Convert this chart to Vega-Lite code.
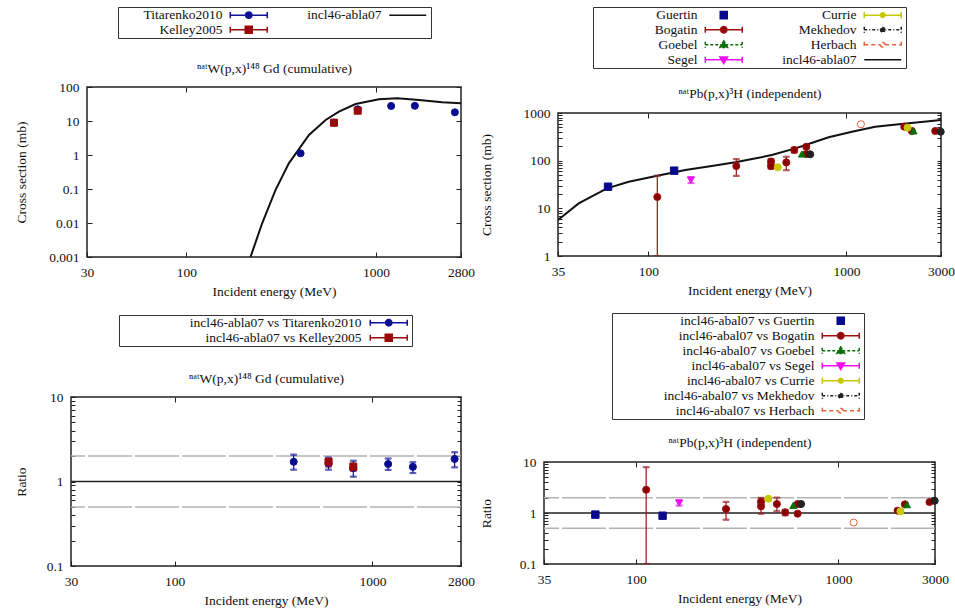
{
  "$schema": "https://vega.github.io/schema/vega-lite/v6.json",
  "padding": {"left": 12, "top": 4, "right": 0, "bottom": 0},
  "config": {
    "font": "Liberation Serif",
    "view": {"stroke": "#222222", "strokeWidth": 1.5},
    "axis": {"domain": false, "grid": false, "labelFontSize": 13.5, "titleFontSize": 13.5, "titleFontWeight": "normal", "labelColor": "#111111", "titleColor": "#111111", "tickColor": "#222222", "tickWidth": 1, "labelFlush": false, "labelOverlap": false},
    "legend": {"labelFontSize": 13.5, "labelColor": "#111111", "symbolOpacity": 1}
  },
  "resolve": {"scale": {"stroke": "independent", "fill": "independent", "shape": "independent", "strokeDash": "independent"}},
  "spacing": 1,
  "hconcat": [
    {
      "resolve": {"scale": {"stroke": "independent", "fill": "independent", "shape": "independent", "strokeDash": "independent"}},
      "spacing": 0,
      "vconcat": [
        {"width": 1, "height": 1, "view": {"stroke": null}, "mark": "point", "data": {"values": []}},
        {
          "resolve": {"scale": {"stroke": "independent", "fill": "independent", "shape": "independent", "strokeDash": "independent"}},
          "spacing": 14,
          "vconcat": [
            {
              "resolve": {"scale": {"stroke": "independent", "fill": "independent", "shape": "independent", "strokeDash": "independent"}},
              "spacing": 0,
              "hconcat": [
                {"width": 1, "height": 1, "view": {"stroke": null}, "mark": "point", "data": {"values": []}},
                {
                  "width": 374, "height": 170,
                  "data": {"values": [
                    {"s": "incl46-abla07", "E": 218, "v": 0.001},
                    {"s": "incl46-abla07", "E": 251, "v": 0.0098},
                    {"s": "incl46-abla07", "E": 295, "v": 0.093},
                    {"s": "incl46-abla07", "E": 347, "v": 0.57},
                    {"s": "incl46-abla07", "E": 443, "v": 3.87},
                    {"s": "incl46-abla07", "E": 542, "v": 10.7},
                    {"s": "incl46-abla07", "E": 637, "v": 18.8},
                    {"s": "incl46-abla07", "E": 780, "v": 31.6},
                    {"s": "incl46-abla07", "E": 1035, "v": 43.5},
                    {"s": "incl46-abla07", "E": 1293, "v": 46.6},
                    {"s": "incl46-abla07", "E": 1682, "v": 41.5},
                    {"s": "incl46-abla07", "E": 2229, "v": 35.5},
                    {"s": "incl46-abla07", "E": 2800, "v": 33},
                    {"s": "Titarenko2010", "E": 400, "v": 1.12},
                    {"s": "Titarenko2010", "E": 600, "v": 9.0},
                    {"s": "Titarenko2010", "E": 800, "v": 22},
                    {"s": "Titarenko2010", "E": 1200, "v": 27.7},
                    {"s": "Titarenko2010", "E": 1600, "v": 28},
                    {"s": "Titarenko2010", "E": 2600, "v": 18},
                    {"s": "Kelley2005", "E": 600, "v": 8.9},
                    {"s": "Kelley2005", "E": 800, "v": 20.1}
                  ]},
                  "resolve": {"axis": {"x": "independent", "y": "independent"}},
                  "layer": [
                    {
                      "transform": [{"filter": "datum.s === 'incl46-abla07'"}],
                      "mark": {"type": "line", "strokeWidth": 2, "clip": true},
                      "encoding": {
                        "x": {"field": "E", "type": "quantitative", "scale": {"type": "log", "domain": [30, 2800], "nice": false},
                          "axis": {"orient": "bottom", "values": [30, 100, 1000, 2800], "format": "d", "tickSize": -5, "labelPadding": 13, "title": "Incident energy (MeV)", "titlePadding": 6}},
                        "y": {"field": "v", "type": "quantitative", "scale": {"type": "log", "domain": [0.001, 100], "nice": false},
                          "axis": {"orient": "left", "values": [0.001, 0.01, 0.1, 1, 10, 100], "format": "~g", "tickSize": -5, "labelPadding": 13, "title": "Cross section (mb)", "titlePadding": 20}},
                        "stroke": {"field": "s", "type": "nominal", "scale": {"domain": ["Titarenko2010", "Kelley2005", "incl46-abla07"], "range": ["#10109a", "#9a0a0a", "#111111"]}}
                      }
                    },
                    {
                      "transform": [{"filter": "datum.s === 'Titarenko2010'"}],
                      "mark": {"type": "point", "shape": "circle", "size": 50, "opacity": 1, "strokeWidth": 1},
                      "encoding": {
                        "x": {"field": "E", "type": "quantitative", "scale": {"type": "log", "domain": [30, 2800], "nice": false},
                          "axis": {"orient": "top", "values": [100, 1000], "tickSize": -5, "labels": false, "title": "ⁿᵃᵗW(p,x)¹⁴⁸ Gd (cumulative)", "titlePadding": 11}},
                        "y": {"field": "v", "type": "quantitative", "scale": {"type": "log", "domain": [0.001, 100], "nice": false},
                          "axis": {"orient": "right", "values": [0.001, 0.01, 0.1, 1, 10, 100], "tickSize": -5, "labels": false, "title": null}},
                        "fill": {"field": "s", "type": "nominal", "scale": {"domain": ["Titarenko2010", "Kelley2005", "incl46-abla07"], "range": ["#0a0a8c", "#9a0a0a", "transparent"]}},
                        "stroke": {"field": "s", "type": "nominal"}
                      }
                    },
                    {
                      "transform": [{"filter": "datum.s === 'Kelley2005'"}],
                      "mark": {"type": "point", "shape": "square", "size": 50, "opacity": 1, "strokeWidth": 1},
                      "encoding": {
                        "x": {"field": "E", "type": "quantitative", "scale": {"type": "log", "domain": [30, 2800], "nice": false}, "axis": null},
                        "y": {"field": "v", "type": "quantitative", "scale": {"type": "log", "domain": [0.001, 100], "nice": false}, "axis": null},
                        "fill": {"field": "s", "type": "nominal"},
                        "stroke": {"field": "s", "type": "nominal"}
                      }
                    },
                    {
                      "transform": [{"filter": "false"}],
                      "mark": {"type": "point", "opacity": 1},
                      "encoding": {
                        "x": {"field": "E", "type": "quantitative", "scale": {"type": "log", "domain": [30, 2800], "nice": false}, "axis": null},
                        "y": {"field": "v", "type": "quantitative", "scale": {"type": "log", "domain": [0.001, 100], "nice": false}, "axis": null},
                        "shape": {"field": "s", "type": "nominal", "scale": {"domain": ["Titarenko2010", "Kelley2005", "incl46-abla07"], "range": [
                          "M-3.36,0H3.36M-3.36,-0.55V0.55M3.36,-0.55V0.55M-0.58,0A0.58,0.58,0,1,0,0.58,0A0.58,0.58,0,1,0,-0.58,0Z",
                          "M-3.36,0H3.36M-3.36,-0.55V0.55M3.36,-0.55V0.55M-0.64,-0.64H0.64V0.64H-0.64Z",
                          "M-3.36,0H3.36"]}},
                        "fill": {"field": "s", "type": "nominal"},
                        "stroke": {"field": "s", "type": "nominal",
                          "legend": {
                            "title": null, "orient": "none", "legendX": 31, "legendY": -80, "columns": 2, "columnPadding": 7, "rowPadding": 0, "padding": 1,
                            "symbolSize": 121, "symbolStrokeWidth": 1.5, "symbolOpacity": 1, "symbolOffset": 123, "labelOffset": -33, "labelAlign": "right", "labelLimit": 400,
                            "strokeColor": "#333333", "fillColor": "#ffffff"
                          }}
                      }
                    }
                  ]
                }
              ]
            },
            {
              "resolve": {"scale": {"stroke": "independent", "fill": "independent", "shape": "independent", "strokeDash": "independent"}},
              "spacing": 0,
              "hconcat": [
                {"width": 1, "height": 1, "view": {"stroke": null}, "mark": "point", "data": {"values": []}},
                {
                  "width": 390, "height": 169,
                  "data": {"values": [
                    {"s": "incl46-abla07 vs Titarenko2010", "E": 400, "v": 1.71, "lo": 1.38, "hi": 2.08},
                    {"s": "incl46-abla07 vs Titarenko2010", "E": 600, "v": 1.65, "lo": 1.38, "hi": 1.92},
                    {"s": "incl46-abla07 vs Titarenko2010", "E": 800, "v": 1.44, "lo": 1.14, "hi": 1.76},
                    {"s": "incl46-abla07 vs Titarenko2010", "E": 1200, "v": 1.61, "lo": 1.37, "hi": 1.87},
                    {"s": "incl46-abla07 vs Titarenko2010", "E": 1600, "v": 1.49, "lo": 1.26, "hi": 1.69},
                    {"s": "incl46-abla07 vs Titarenko2010", "E": 2600, "v": 1.85, "lo": 1.47, "hi": 2.22},
                    {"s": "incl46-abla07 vs Kelley2005", "E": 600, "v": 1.71, "lo": 1.5, "hi": 1.85},
                    {"s": "incl46-abla07 vs Kelley2005", "E": 800, "v": 1.49, "lo": 1.34, "hi": 1.64}
                  ]},
                  "resolve": {"axis": {"x": "independent", "y": "independent"}},
                  "layer": [
                    {
                      "data": {"values": [{"r": 0.5}, {"r": 1}, {"r": 2}]},
                      "mark": {"type": "rule", "strokeWidth": 1.5},
                      "encoding": {
                        "y": {"field": "r", "type": "quantitative", "scale": {"type": "log", "domain": [0.1, 10], "nice": false}, "axis": null},
                        "stroke": {"condition": {"test": "datum.r == 1", "value": "#222222"}, "value": "#b4b4b4"},
                        "strokeDash": {"condition": {"test": "datum.r == 1", "value": [1, 0]}, "value": [44, 3]}
                      }
                    },
                    {
                      "mark": {"type": "rule", "strokeWidth": 1.2, "clip": true},
                      "encoding": {
                        "x": {"field": "E", "type": "quantitative", "scale": {"type": "log", "domain": [30, 2800], "nice": false},
                          "axis": {"orient": "bottom", "values": [30, 100, 1000, 2800], "format": "d", "tickSize": -5, "labelPadding": 13, "title": "Incident energy (MeV)", "titlePadding": 6}},
                        "y": {"field": "lo", "type": "quantitative", "scale": {"type": "log", "domain": [0.1, 10], "nice": false},
                          "axis": {"orient": "left", "values": [0.1, 0.2, 0.3, 0.4, 0.5, 0.6, 0.7, 0.8, 0.9, 1, 2, 3, 4, 5, 6, 7, 8, 9, 10], "format": "~g", "labelExpr": "abs(log(datum.value)/LN10-round(log(datum.value)/LN10))<0.001 ? datum.label : ''", "tickSize": -4, "labelPadding": 12, "title": "Ratio", "titlePadding": 18}},
                        "y2": {"field": "hi"},
                        "stroke": {"field": "s", "type": "nominal", "scale": {"domain": ["incl46-abla07 vs Titarenko2010", "incl46-abla07 vs Kelley2005"], "range": ["#10109a", "#9a0a0a"]}}
                      }
                    },
                    {
                      "mark": {"type": "tick", "orient": "horizontal", "size": 6, "thickness": 1.2, "clip": true},
                      "encoding": {
                        "x": {"field": "E", "type": "quantitative", "scale": {"type": "log", "domain": [30, 2800], "nice": false},
                          "axis": {"orient": "top", "values": [100, 1000], "tickSize": -5, "labels": false, "title": "ⁿᵃᵗW(p,x)¹⁴⁸ Gd (cumulative)", "titlePadding": 11}},
                        "y": {"field": "lo", "type": "quantitative", "scale": {"type": "log", "domain": [0.1, 10], "nice": false},
                          "axis": {"orient": "right", "values": [0.1, 0.2, 0.3, 0.4, 0.5, 0.6, 0.7, 0.8, 0.9, 1, 2, 3, 4, 5, 6, 7, 8, 9, 10], "tickSize": -4, "labels": false, "title": null}},
                        "stroke": {"field": "s", "type": "nominal"}
                      }
                    },
                    {
                      "mark": {"type": "tick", "orient": "horizontal", "size": 6, "thickness": 1.2, "clip": true},
                      "encoding": {
                        "x": {"field": "E", "type": "quantitative", "scale": {"type": "log", "domain": [30, 2800], "nice": false}, "axis": null},
                        "y": {"field": "hi", "type": "quantitative", "scale": {"type": "log", "domain": [0.1, 10], "nice": false}, "axis": null},
                        "stroke": {"field": "s", "type": "nominal"}
                      }
                    },
                    {
                      "transform": [{"filter": "datum.s === 'incl46-abla07 vs Titarenko2010'"}],
                      "mark": {"type": "point", "shape": "circle", "size": 50, "opacity": 1, "strokeWidth": 1},
                      "encoding": {
                        "x": {"field": "E", "type": "quantitative", "scale": {"type": "log", "domain": [30, 2800], "nice": false}, "axis": null},
                        "y": {"field": "v", "type": "quantitative", "scale": {"type": "log", "domain": [0.1, 10], "nice": false}, "axis": null},
                        "fill": {"field": "s", "type": "nominal", "scale": {"domain": ["incl46-abla07 vs Titarenko2010", "incl46-abla07 vs Kelley2005"], "range": ["#0a0a8c", "#9a0a0a"]}},
                        "stroke": {"field": "s", "type": "nominal"}
                      }
                    },
                    {
                      "transform": [{"filter": "datum.s === 'incl46-abla07 vs Kelley2005'"}],
                      "mark": {"type": "point", "shape": "square", "size": 50, "opacity": 1, "strokeWidth": 1},
                      "encoding": {
                        "x": {"field": "E", "type": "quantitative", "scale": {"type": "log", "domain": [30, 2800], "nice": false}, "axis": null},
                        "y": {"field": "v", "type": "quantitative", "scale": {"type": "log", "domain": [0.1, 10], "nice": false}, "axis": null},
                        "fill": {"field": "s", "type": "nominal"},
                        "stroke": {"field": "s", "type": "nominal"}
                      }
                    },
                    {
                      "transform": [{"filter": "false"}],
                      "mark": {"type": "point", "opacity": 1},
                      "encoding": {
                        "x": {"field": "E", "type": "quantitative", "scale": {"type": "log", "domain": [30, 2800], "nice": false}, "axis": null},
                        "y": {"field": "v", "type": "quantitative", "scale": {"type": "log", "domain": [0.1, 10], "nice": false}, "axis": null},
                        "shape": {"field": "s", "type": "nominal", "scale": {"domain": ["incl46-abla07 vs Titarenko2010", "incl46-abla07 vs Kelley2005"], "range": [
                          "M-3.36,0H3.36M-3.36,-0.55V0.55M3.36,-0.55V0.55M-0.58,0A0.58,0.58,0,1,0,0.58,0A0.58,0.58,0,1,0,-0.58,0Z",
                          "M-3.36,0H3.36M-3.36,-0.55V0.55M3.36,-0.55V0.55M-0.64,-0.64H0.64V0.64H-0.64Z"]}},
                        "fill": {"field": "s", "type": "nominal"},
                        "stroke": {"field": "s", "type": "nominal",
                          "legend": {
                            "title": null, "orient": "none", "legendX": 48, "legendY": -82, "columns": 1, "rowPadding": 0, "padding": 1,
                            "symbolSize": 121, "symbolStrokeWidth": 1.5, "symbolOpacity": 1, "symbolOffset": 262, "labelOffset": -34, "labelAlign": "right", "labelLimit": 400,
                            "strokeColor": "#333333", "fillColor": "#ffffff"
                          }}
                      }
                    }
                  ]
                }
              ]
            }
          ]
        }
      ]
    },
    {
      "resolve": {"scale": {"stroke": "independent", "fill": "independent", "shape": "independent", "strokeDash": "independent"}},
      "spacing": 0,
      "vconcat": [
        {"width": 1, "height": 1, "view": {"stroke": null}, "mark": "point", "data": {"values": []}},
        {
          "resolve": {"scale": {"stroke": "independent", "fill": "independent", "shape": "independent", "strokeDash": "independent"}},
          "spacing": 13,
          "vconcat": [
            {
              "resolve": {"scale": {"stroke": "independent", "fill": "independent", "shape": "independent", "strokeDash": "independent"}},
              "spacing": 0,
              "hconcat": [
                {"width": 1, "height": 1, "view": {"stroke": null}, "mark": "point", "data": {"values": []}},
                {
                  "width": 383, "height": 143,
                  "data": {"values": [
                    {"s": "incl46-abla07", "E": 35, "v": 5.69},
                    {"s": "incl46-abla07", "E": 44.5, "v": 12.7},
                    {"s": "incl46-abla07", "E": 61.9, "v": 26.3},
                    {"s": "incl46-abla07", "E": 79.6, "v": 36.2},
                    {"s": "incl46-abla07", "E": 111, "v": 48.4},
                    {"s": "incl46-abla07", "E": 153.6, "v": 63.7},
                    {"s": "incl46-abla07", "E": 209, "v": 77.3},
                    {"s": "incl46-abla07", "E": 275, "v": 92.3},
                    {"s": "incl46-abla07", "E": 334, "v": 108},
                    {"s": "incl46-abla07", "E": 420, "v": 131},
                    {"s": "incl46-abla07", "E": 552, "v": 181},
                    {"s": "incl46-abla07", "E": 644, "v": 224},
                    {"s": "incl46-abla07", "E": 813, "v": 309},
                    {"s": "incl46-abla07", "E": 1066, "v": 405},
                    {"s": "incl46-abla07", "E": 1397, "v": 516},
                    {"s": "incl46-abla07", "E": 1835, "v": 579},
                    {"s": "incl46-abla07", "E": 2318, "v": 638},
                    {"s": "incl46-abla07", "E": 3000, "v": 713},
                    {"s": "Bogatin", "E": 111, "v": 17.3, "lo": 1, "hi": 48.4},
                    {"s": "Bogatin", "E": 278, "v": 77, "lo": 48, "hi": 108},
                    {"s": "Bogatin", "E": 416, "v": 96, "lo": 86, "hi": 108},
                    {"s": "Bogatin", "E": 416, "v": 77, "lo": 68, "hi": 88},
                    {"s": "Bogatin", "E": 497, "v": 92, "lo": 63, "hi": 121},
                    {"s": "Bogatin", "E": 545, "v": 167, "lo": 148, "hi": 188},
                    {"s": "Bogatin", "E": 627, "v": 196, "lo": 180, "hi": 213},
                    {"s": "Bogatin", "E": 627, "v": 138, "lo": 128, "hi": 148},
                    {"s": "Bogatin", "E": 1958, "v": 516, "lo": 490, "hi": 545},
                    {"s": "Bogatin", "E": 2138, "v": 419, "lo": 398, "hi": 441},
                    {"s": "Bogatin", "E": 2806, "v": 419, "lo": 398, "hi": 441},
                    {"s": "Guertin", "E": 62.6, "v": 28.4},
                    {"s": "Guertin", "E": 135, "v": 61.7},
                    {"s": "Segel", "E": 164, "v": 39.3, "lo": 34, "hi": 45},
                    {"s": "Goebel", "E": 596, "v": 138},
                    {"s": "Goebel", "E": 2180, "v": 422},
                    {"s": "Currie", "E": 450, "v": 72.6},
                    {"s": "Currie", "E": 2034, "v": 492},
                    {"s": "Mekhedov", "E": 656, "v": 136},
                    {"s": "Mekhedov", "E": 2990, "v": 405},
                    {"s": "Herbach", "E": 1183, "v": 580}
                  ]},
                  "resolve": {"axis": {"x": "independent", "y": "independent"}},
                  "layer": [
                    {
                      "transform": [{"filter": "datum.s === 'incl46-abla07'"}],
                      "mark": {"type": "line", "strokeWidth": 2, "clip": true},
                      "encoding": {
                        "x": {"field": "E", "type": "quantitative", "scale": {"type": "log", "domain": [35, 3000], "nice": false},
                          "axis": {"orient": "bottom", "values": [35, 100, 1000, 3000], "format": "d", "tickSize": -5, "labelPadding": 13, "title": "Incident energy (MeV)", "titlePadding": 6}},
                        "y": {"field": "v", "type": "quantitative", "scale": {"type": "log", "domain": [1, 1000], "nice": false},
                          "axis": {"orient": "left", "values": [1, 2, 3, 4, 5, 6, 7, 8, 9, 10, 20, 30, 40, 50, 60, 70, 80, 90, 100, 200, 300, 400, 500, 600, 700, 800, 900, 1000], "format": "d", "labelExpr": "abs(log(datum.value)/LN10-round(log(datum.value)/LN10))<0.001 ? datum.label : ''", "tickSize": -4, "labelPadding": 12, "title": "Cross section (mb)", "titlePadding": 30}},
                        "stroke": {"field": "s", "type": "nominal", "scale": {"domain": ["Guertin", "Bogatin", "Goebel", "Segel", "Currie", "Mekhedov", "Herbach", "incl46-abla07"], "range": ["#0a0a8c", "#a01010", "#0a6e0a", "#ee10ee", "#c8c800", "#222222", "#e8643c", "#111111"]}}
                      }
                    },
                    {
                      "transform": [{"filter": "datum.s !== 'incl46-abla07'"}],
                      "mark": {"type": "rule", "strokeWidth": 1.2, "clip": true},
                      "encoding": {
                        "x": {"field": "E", "type": "quantitative", "scale": {"type": "log", "domain": [35, 3000], "nice": false},
                          "axis": {"orient": "top", "values": [100, 1000], "tickSize": -5, "labels": false, "title": "ⁿᵃᵗPb(p,x)³H  (independent)", "titlePadding": 12}},
                        "y": {"field": "lo", "type": "quantitative", "scale": {"type": "log", "domain": [1, 1000], "nice": false},
                          "axis": {"orient": "right", "values": [1, 2, 3, 4, 5, 6, 7, 8, 9, 10, 20, 30, 40, 50, 60, 70, 80, 90, 100, 200, 300, 400, 500, 600, 700, 800, 900, 1000], "tickSize": -4, "labels": false, "title": null}},
                        "y2": {"field": "hi"},
                        "stroke": {"field": "s", "type": "nominal"}
                      }
                    },
                    {
                      "transform": [{"filter": "datum.s !== 'incl46-abla07'"}],
                      "mark": {"type": "tick", "orient": "horizontal", "size": 6, "thickness": 1.2, "clip": true},
                      "encoding": {
                        "x": {"field": "E", "type": "quantitative", "scale": {"type": "log", "domain": [35, 3000], "nice": false}, "axis": null},
                        "y": {"field": "lo", "type": "quantitative", "scale": {"type": "log", "domain": [1, 1000], "nice": false}, "axis": null},
                        "stroke": {"field": "s", "type": "nominal"}
                      }
                    },
                    {
                      "transform": [{"filter": "datum.s !== 'incl46-abla07'"}],
                      "mark": {"type": "tick", "orient": "horizontal", "size": 6, "thickness": 1.2, "clip": true},
                      "encoding": {
                        "x": {"field": "E", "type": "quantitative", "scale": {"type": "log", "domain": [35, 3000], "nice": false}, "axis": null},
                        "y": {"field": "hi", "type": "quantitative", "scale": {"type": "log", "domain": [1, 1000], "nice": false}, "axis": null},
                        "stroke": {"field": "s", "type": "nominal"}
                      }
                    },
                    {
                      "transform": [{"filter": {"field": "s", "oneOf": ["Bogatin", "Currie", "Mekhedov", "Herbach"]}}],
                      "mark": {"type": "point", "shape": "circle", "size": 50, "opacity": 1, "strokeWidth": 1},
                      "encoding": {
                        "x": {"field": "E", "type": "quantitative", "scale": {"type": "log", "domain": [35, 3000], "nice": false}, "axis": null},
                        "y": {"field": "v", "type": "quantitative", "scale": {"type": "log", "domain": [1, 1000], "nice": false}, "axis": null},
                        "fill": {"field": "s", "type": "nominal", "scale": {"domain": ["Guertin", "Bogatin", "Goebel", "Segel", "Currie", "Mekhedov", "Herbach", "incl46-abla07"], "range": ["#0a0a8c", "#8b0000", "#0a6e0a", "#ee10ee", "#c8c800", "#222222", "#ffffff", "transparent"]}},
                        "stroke": {"field": "s", "type": "nominal"}
                      }
                    },
                    {
                      "transform": [{"filter": "datum.s === 'Guertin'"}],
                      "mark": {"type": "point", "shape": "square", "size": 55, "opacity": 1, "strokeWidth": 1},
                      "encoding": {
                        "x": {"field": "E", "type": "quantitative", "scale": {"type": "log", "domain": [35, 3000], "nice": false}, "axis": null},
                        "y": {"field": "v", "type": "quantitative", "scale": {"type": "log", "domain": [1, 1000], "nice": false}, "axis": null},
                        "fill": {"field": "s", "type": "nominal"},
                        "stroke": {"field": "s", "type": "nominal"}
                      }
                    },
                    {
                      "transform": [{"filter": "datum.s === 'Goebel'"}],
                      "mark": {"type": "point", "shape": "triangle-up", "size": 50, "opacity": 1, "strokeWidth": 1},
                      "encoding": {
                        "x": {"field": "E", "type": "quantitative", "scale": {"type": "log", "domain": [35, 3000], "nice": false}, "axis": null},
                        "y": {"field": "v", "type": "quantitative", "scale": {"type": "log", "domain": [1, 1000], "nice": false}, "axis": null},
                        "fill": {"field": "s", "type": "nominal"},
                        "stroke": {"field": "s", "type": "nominal"}
                      }
                    },
                    {
                      "transform": [{"filter": "datum.s === 'Segel'"}],
                      "mark": {"type": "point", "shape": "triangle-down", "size": 50, "opacity": 1, "strokeWidth": 1},
                      "encoding": {
                        "x": {"field": "E", "type": "quantitative", "scale": {"type": "log", "domain": [35, 3000], "nice": false}, "axis": null},
                        "y": {"field": "v", "type": "quantitative", "scale": {"type": "log", "domain": [1, 1000], "nice": false}, "axis": null},
                        "fill": {"field": "s", "type": "nominal"},
                        "stroke": {"field": "s", "type": "nominal"}
                      }
                    },
                    {
                      "transform": [{"filter": "false"}],
                      "mark": {"type": "point", "opacity": 1},
                      "encoding": {
                        "x": {"field": "E", "type": "quantitative", "scale": {"type": "log", "domain": [35, 3000], "nice": false}, "axis": null},
                        "y": {"field": "v", "type": "quantitative", "scale": {"type": "log", "domain": [1, 1000], "nice": false}, "axis": null},
                        "shape": {"field": "s", "type": "nominal", "scale": {"domain": ["Guertin", "Bogatin", "Goebel", "Segel", "Currie", "Mekhedov", "Herbach", "incl46-abla07"], "range": [
                          "M-0.64,-0.64H0.64V0.64H-0.64Z",
                          "M-3.36,0H3.36M-3.36,-0.55V0.55M3.36,-0.55V0.55M-0.58,0A0.58,0.58,0,1,0,0.58,0A0.58,0.58,0,1,0,-0.58,0Z",
                          "M-3.36,0H3.36M-3.36,-0.55V0.55M3.36,-0.55V0.55M0,-0.7L0.7,0.5H-0.7Z",
                          "M-3.36,0H3.36M-3.36,-0.55V0.55M3.36,-0.55V0.55M0,0.7L0.7,-0.5H-0.7Z",
                          "M-3.36,0H3.36M-3.36,-0.55V0.55M3.36,-0.55V0.55M-0.42,0A0.42,0.42,0,1,0,0.42,0A0.42,0.42,0,1,0,-0.42,0Z",
                          "M-3.36,0H3.36M-3.36,-0.55V0.55M3.36,-0.55V0.55M-0.42,0A0.42,0.42,0,1,0,0.42,0A0.42,0.42,0,1,0,-0.42,0Z",
                          "M-3.36,0H-0.42M0.42,0H3.36M-3.36,-0.55V0.55M3.36,-0.55V0.55M-0.42,0A0.42,0.42,0,1,0,0.42,0A0.42,0.42,0,1,0,-0.42,0Z",
                          "M-3.36,0H3.36"]}},
                        "strokeDash": {"field": "s", "type": "nominal", "scale": {"domain": ["Guertin", "Bogatin", "Goebel", "Segel", "Currie", "Mekhedov", "Herbach", "incl46-abla07"], "range": [[1, 0], [1, 0], [3, 2], [1, 0], [1, 0], [3, 2, 1, 2], [4, 3], [1, 0]]}},
                        "fill": {"field": "s", "type": "nominal"},
                        "stroke": {"field": "s", "type": "nominal",
                          "legend": {
                            "title": null, "orient": "none", "legendX": 35, "legendY": -106, "columns": 2, "columnPadding": 7, "rowPadding": 0, "padding": 1,
                            "symbolSize": 121, "symbolStrokeWidth": 1.5, "symbolOpacity": 1, "symbolOffset": 123, "labelOffset": -33, "labelAlign": "right", "labelLimit": 400,
                            "strokeColor": "#333333", "fillColor": "#ffffff"
                          }}
                      }
                    }
                  ]
                }
              ]
            },
            {
              "resolve": {"scale": {"stroke": "independent", "fill": "independent", "shape": "independent", "strokeDash": "independent"}},
              "spacing": 0,
              "hconcat": [
                {"width": 1, "height": 1, "view": {"stroke": null}, "mark": "point", "data": {"values": []}},
                {
                  "width": 391, "height": 102,
                  "data": {"values": [
                    {"s": "incl46-abal07 vs Bogatin", "E": 112, "v": 2.86, "lo": 0.1, "hi": 7.9},
                    {"s": "incl46-abal07 vs Bogatin", "E": 278, "v": 1.2, "lo": 0.74, "hi": 1.65},
                    {"s": "incl46-abal07 vs Bogatin", "E": 414, "v": 1.67, "lo": 1.45, "hi": 1.98},
                    {"s": "incl46-abal07 vs Bogatin", "E": 414, "v": 1.35, "lo": 0.97, "hi": 1.55},
                    {"s": "incl46-abal07 vs Bogatin", "E": 496, "v": 1.5, "lo": 1.08, "hi": 2.0},
                    {"s": "incl46-abal07 vs Bogatin", "E": 545, "v": 1.03, "lo": 0.9, "hi": 1.15},
                    {"s": "incl46-abal07 vs Bogatin", "E": 628, "v": 0.97, "lo": 0.92, "hi": 1.03},
                    {"s": "incl46-abal07 vs Bogatin", "E": 628, "v": 1.5, "lo": 1.42, "hi": 1.58},
                    {"s": "incl46-abal07 vs Bogatin", "E": 1960, "v": 1.11, "lo": 1.05, "hi": 1.17},
                    {"s": "incl46-abal07 vs Bogatin", "E": 2130, "v": 1.48, "lo": 1.4, "hi": 1.56},
                    {"s": "incl46-abal07 vs Bogatin", "E": 2818, "v": 1.64, "lo": 1.55, "hi": 1.72},
                    {"s": "incl46-abal07 vs Guertin", "E": 62.8, "v": 0.93},
                    {"s": "incl46-abal07 vs Guertin", "E": 135, "v": 0.885},
                    {"s": "incl46-abal07 vs Segel", "E": 163, "v": 1.57, "lo": 1.4, "hi": 1.78},
                    {"s": "incl46-abal07 vs Goebel", "E": 598, "v": 1.41},
                    {"s": "incl46-abal07 vs Goebel", "E": 2180, "v": 1.46},
                    {"s": "incl46-abal07 vs Currie", "E": 450, "v": 1.91},
                    {"s": "incl46-abal07 vs Currie", "E": 2024, "v": 1.08},
                    {"s": "incl46-abal07 vs Mekhedov", "E": 653, "v": 1.5},
                    {"s": "incl46-abal07 vs Mekhedov", "E": 2990, "v": 1.74, "lo": 1.55, "hi": 1.95},
                    {"s": "incl46-abal07 vs Herbach", "E": 1188, "v": 0.65}
                  ]},
                  "resolve": {"axis": {"x": "independent", "y": "independent"}},
                  "layer": [
                    {
                      "data": {"values": [{"r": 0.5}, {"r": 1}, {"r": 2}]},
                      "mark": {"type": "rule", "strokeWidth": 1.5},
                      "encoding": {
                        "y": {"field": "r", "type": "quantitative", "scale": {"type": "log", "domain": [0.1, 10], "nice": false}, "axis": null},
                        "stroke": {"condition": {"test": "datum.r == 1", "value": "#222222"}, "value": "#b4b4b4"},
                        "strokeDash": {"condition": {"test": "datum.r == 1", "value": [1, 0]}, "value": [44, 3]}
                      }
                    },
                    {
                      "mark": {"type": "rule", "strokeWidth": 1.2, "clip": true},
                      "encoding": {
                        "x": {"field": "E", "type": "quantitative", "scale": {"type": "log", "domain": [35, 3000], "nice": false},
                          "axis": {"orient": "bottom", "values": [35, 100, 1000, 3000], "format": "d", "tickSize": -5, "labelPadding": 13, "title": "Incident energy (MeV)", "titlePadding": 6}},
                        "y": {"field": "lo", "type": "quantitative", "scale": {"type": "log", "domain": [0.1, 10], "nice": false},
                          "axis": {"orient": "left", "values": [0.1, 0.2, 0.3, 0.4, 0.5, 0.6, 0.7, 0.8, 0.9, 1, 2, 3, 4, 5, 6, 7, 8, 9, 10], "format": "~g", "labelExpr": "abs(log(datum.value)/LN10-round(log(datum.value)/LN10))<0.001 ? datum.label : ''", "tickSize": -4, "labelPadding": 12, "title": "Ratio", "titlePadding": 26}},
                        "y2": {"field": "hi"},
                        "stroke": {"field": "s", "type": "nominal", "scale": {"domain": ["incl46-abal07 vs Guertin", "incl46-abal07 vs Bogatin", "incl46-abal07 vs Goebel", "incl46-abal07 vs Segel", "incl46-abal07 vs Currie", "incl46-abal07 vs Mekhedov", "incl46-abal07 vs Herbach"], "range": ["#0a0a8c", "#a01010", "#0a6e0a", "#ee10ee", "#c8c800", "#222222", "#e8643c"]}}
                      }
                    },
                    {
                      "mark": {"type": "tick", "orient": "horizontal", "size": 6, "thickness": 1.2, "clip": true},
                      "encoding": {
                        "x": {"field": "E", "type": "quantitative", "scale": {"type": "log", "domain": [35, 3000], "nice": false},
                          "axis": {"orient": "top", "values": [100, 1000], "tickSize": -5, "labels": false, "title": "ⁿᵃᵗPb(p,x)³H  (independent)", "titlePadding": 12}},
                        "y": {"field": "lo", "type": "quantitative", "scale": {"type": "log", "domain": [0.1, 10], "nice": false},
                          "axis": {"orient": "right", "values": [0.1, 0.2, 0.3, 0.4, 0.5, 0.6, 0.7, 0.8, 0.9, 1, 2, 3, 4, 5, 6, 7, 8, 9, 10], "tickSize": -4, "labels": false, "title": null}},
                        "stroke": {"field": "s", "type": "nominal"}
                      }
                    },
                    {
                      "mark": {"type": "tick", "orient": "horizontal", "size": 6, "thickness": 1.2, "clip": true},
                      "encoding": {
                        "x": {"field": "E", "type": "quantitative", "scale": {"type": "log", "domain": [35, 3000], "nice": false}, "axis": null},
                        "y": {"field": "hi", "type": "quantitative", "scale": {"type": "log", "domain": [0.1, 10], "nice": false}, "axis": null},
                        "stroke": {"field": "s", "type": "nominal"}
                      }
                    },
                    {
                      "transform": [{"filter": {"field": "s", "oneOf": ["incl46-abal07 vs Bogatin", "incl46-abal07 vs Currie", "incl46-abal07 vs Mekhedov", "incl46-abal07 vs Herbach"]}}],
                      "mark": {"type": "point", "shape": "circle", "size": 50, "opacity": 1, "strokeWidth": 1},
                      "encoding": {
                        "x": {"field": "E", "type": "quantitative", "scale": {"type": "log", "domain": [35, 3000], "nice": false}, "axis": null},
                        "y": {"field": "v", "type": "quantitative", "scale": {"type": "log", "domain": [0.1, 10], "nice": false}, "axis": null},
                        "fill": {"field": "s", "type": "nominal", "scale": {"domain": ["incl46-abal07 vs Guertin", "incl46-abal07 vs Bogatin", "incl46-abal07 vs Goebel", "incl46-abal07 vs Segel", "incl46-abal07 vs Currie", "incl46-abal07 vs Mekhedov", "incl46-abal07 vs Herbach"], "range": ["#0a0a8c", "#8b0000", "#0a6e0a", "#ee10ee", "#c8c800", "#222222", "#ffffff"]}},
                        "stroke": {"field": "s", "type": "nominal"}
                      }
                    },
                    {
                      "transform": [{"filter": "datum.s === 'incl46-abal07 vs Guertin'"}],
                      "mark": {"type": "point", "shape": "square", "size": 55, "opacity": 1, "strokeWidth": 1},
                      "encoding": {
                        "x": {"field": "E", "type": "quantitative", "scale": {"type": "log", "domain": [35, 3000], "nice": false}, "axis": null},
                        "y": {"field": "v", "type": "quantitative", "scale": {"type": "log", "domain": [0.1, 10], "nice": false}, "axis": null},
                        "fill": {"field": "s", "type": "nominal"},
                        "stroke": {"field": "s", "type": "nominal"}
                      }
                    },
                    {
                      "transform": [{"filter": "datum.s === 'incl46-abal07 vs Goebel'"}],
                      "mark": {"type": "point", "shape": "triangle-up", "size": 50, "opacity": 1, "strokeWidth": 1},
                      "encoding": {
                        "x": {"field": "E", "type": "quantitative", "scale": {"type": "log", "domain": [35, 3000], "nice": false}, "axis": null},
                        "y": {"field": "v", "type": "quantitative", "scale": {"type": "log", "domain": [0.1, 10], "nice": false}, "axis": null},
                        "fill": {"field": "s", "type": "nominal"},
                        "stroke": {"field": "s", "type": "nominal"}
                      }
                    },
                    {
                      "transform": [{"filter": "datum.s === 'incl46-abal07 vs Segel'"}],
                      "mark": {"type": "point", "shape": "triangle-down", "size": 50, "opacity": 1, "strokeWidth": 1},
                      "encoding": {
                        "x": {"field": "E", "type": "quantitative", "scale": {"type": "log", "domain": [35, 3000], "nice": false}, "axis": null},
                        "y": {"field": "v", "type": "quantitative", "scale": {"type": "log", "domain": [0.1, 10], "nice": false}, "axis": null},
                        "fill": {"field": "s", "type": "nominal"},
                        "stroke": {"field": "s", "type": "nominal"}
                      }
                    },
                    {
                      "transform": [{"filter": "false"}],
                      "mark": {"type": "point", "opacity": 1},
                      "encoding": {
                        "x": {"field": "E", "type": "quantitative", "scale": {"type": "log", "domain": [35, 3000], "nice": false}, "axis": null},
                        "y": {"field": "v", "type": "quantitative", "scale": {"type": "log", "domain": [0.1, 10], "nice": false}, "axis": null},
                        "shape": {"field": "s", "type": "nominal", "scale": {"domain": ["incl46-abal07 vs Guertin", "incl46-abal07 vs Bogatin", "incl46-abal07 vs Goebel", "incl46-abal07 vs Segel", "incl46-abal07 vs Currie", "incl46-abal07 vs Mekhedov", "incl46-abal07 vs Herbach"], "range": [
                          "M-0.64,-0.64H0.64V0.64H-0.64Z",
                          "M-3.36,0H3.36M-3.36,-0.55V0.55M3.36,-0.55V0.55M-0.58,0A0.58,0.58,0,1,0,0.58,0A0.58,0.58,0,1,0,-0.58,0Z",
                          "M-3.36,0H3.36M-3.36,-0.55V0.55M3.36,-0.55V0.55M0,-0.7L0.7,0.5H-0.7Z",
                          "M-3.36,0H3.36M-3.36,-0.55V0.55M3.36,-0.55V0.55M0,0.7L0.7,-0.5H-0.7Z",
                          "M-3.36,0H3.36M-3.36,-0.55V0.55M3.36,-0.55V0.55M-0.42,0A0.42,0.42,0,1,0,0.42,0A0.42,0.42,0,1,0,-0.42,0Z",
                          "M-3.36,0H3.36M-3.36,-0.55V0.55M3.36,-0.55V0.55M-0.42,0A0.42,0.42,0,1,0,0.42,0A0.42,0.42,0,1,0,-0.42,0Z",
                          "M-3.36,0H-0.42M0.42,0H3.36M-3.36,-0.55V0.55M3.36,-0.55V0.55M-0.42,0A0.42,0.42,0,1,0,0.42,0A0.42,0.42,0,1,0,-0.42,0Z"]}},
                        "strokeDash": {"field": "s", "type": "nominal", "scale": {"domain": ["incl46-abal07 vs Guertin", "incl46-abal07 vs Bogatin", "incl46-abal07 vs Goebel", "incl46-abal07 vs Segel", "incl46-abal07 vs Currie", "incl46-abal07 vs Mekhedov", "incl46-abal07 vs Herbach"], "range": [[1, 0], [1, 0], [3, 2], [1, 0], [1, 0], [3, 2, 1, 2], [4, 3]]}},
                        "fill": {"field": "s", "type": "nominal"},
                        "stroke": {"field": "s", "type": "nominal",
                          "legend": {
                            "title": null, "orient": "none", "legendX": 68, "legendY": -149, "columns": 1, "rowPadding": 0, "padding": 1,
                            "symbolSize": 121, "symbolStrokeWidth": 1.5, "symbolOpacity": 1, "symbolOffset": 221, "labelOffset": -33, "labelAlign": "right", "labelLimit": 400,
                            "strokeColor": "#333333", "fillColor": "#ffffff"
                          }}
                      }
                    }
                  ]
                }
              ]
            }
          ]
        }
      ]
    }
  ]
}
